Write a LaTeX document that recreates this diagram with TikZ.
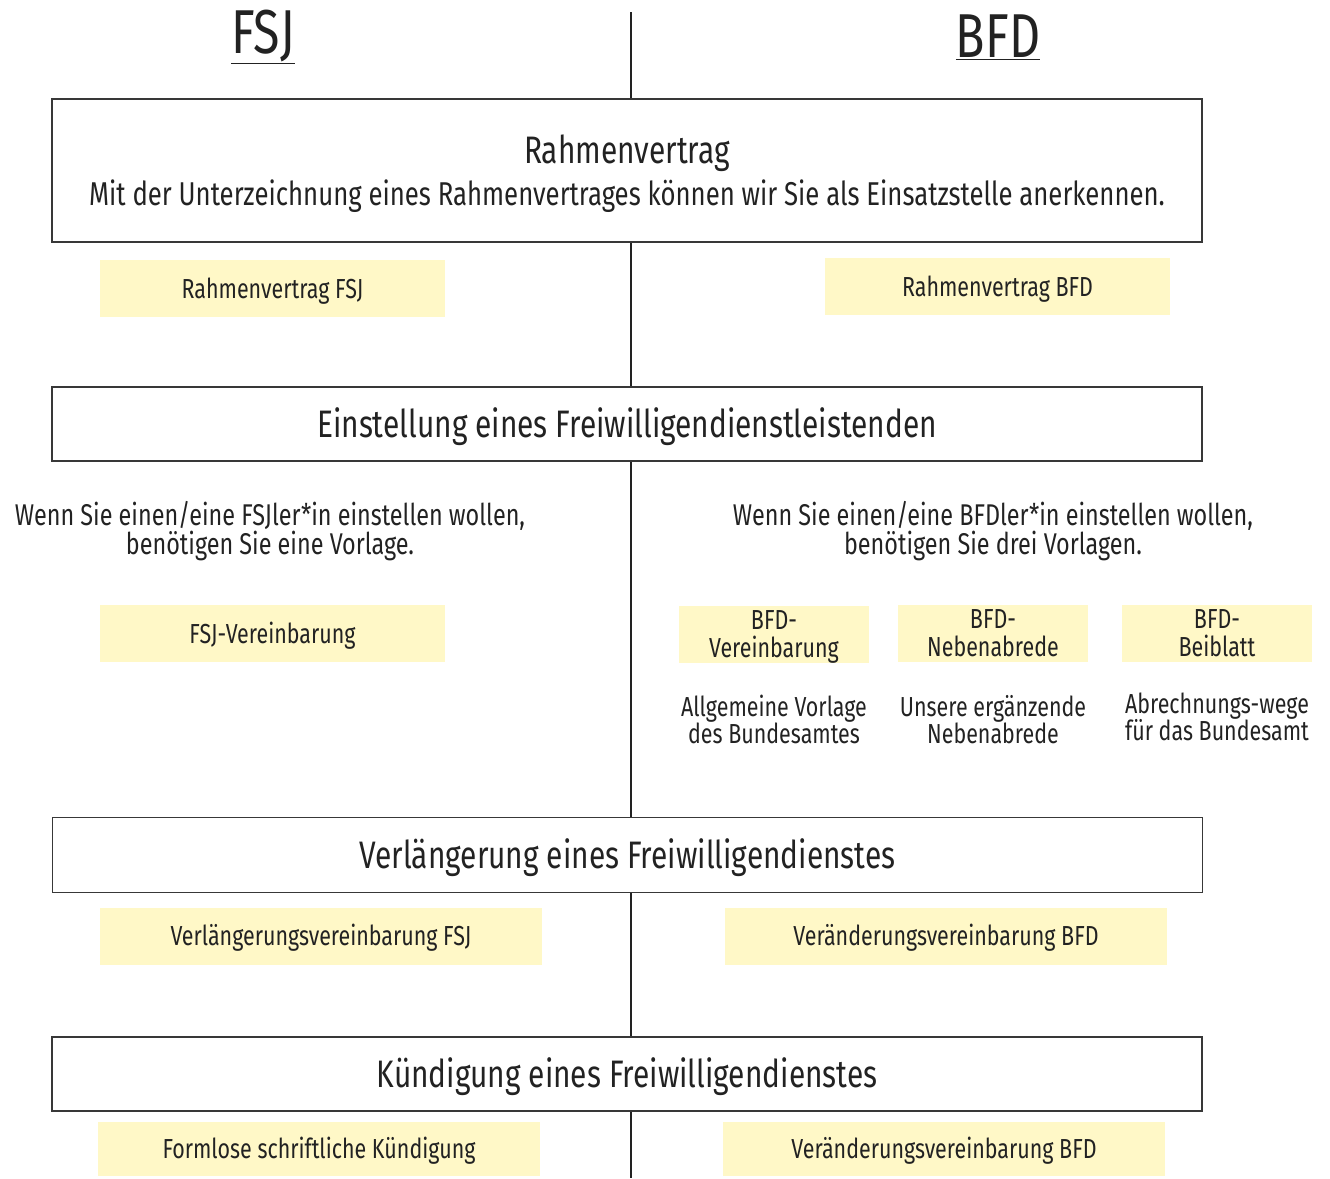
\documentclass[tikz,border=0pt]{standalone}
\usepackage{fontspec}
\setmainfont{Fira Sans}[FakeStretch=0.78]
\usepackage{tikz}
\usetikzlibrary{positioning}
\definecolor{docyellow}{RGB}{255,248,199}
\definecolor{ink}{RGB}{34,34,34}

\begin{document}
\begin{tikzpicture}[x=1pt, y=-1pt, every node/.style={text=ink, inner sep=0pt},
	head/.style={font=\fontsize{62}{62}\selectfont},
	oneline/.style={text height=#1, text depth=0pt},
	stage/.style={draw=ink!90, line width=1.2pt, fill=white, minimum width=1150pt, align=center},
	stagetitle/.style={font=\fontsize{38.3}{44}\selectfont, oneline=26.4pt},
	doc/.style={fill=docyellow, minimum height=57pt, align=center, text depth=0pt, font=\fontsize{27.5}{28}\selectfont},
	docline/.style={doc, oneline=19pt},
	note/.style={align=center, font=\fontsize{30}{29}\selectfont}]
	\useasboundingbox (0,0) rectangle (1330,1178);
	% column divider
	\coordinate (top) at (631,12);
	\coordinate (bottom) at (631,1178);
	\draw[ink, line width=1.3pt] (top) -- (bottom);
	\node[head] (fsj) at (263,37) {\underline{FSJ}};
	\node[head] (bfd) at (998,37) {\underline{BFD}};
	% Rahmenvertrag
	\node[stage, minimum height=143pt] (rahmen) at (627,170.5) {};
	\node[stagetitle] (rahmenT) at (627,150) {Rahmenvertrag};
	\node[note, oneline=22.7pt, font=\fontsize{33}{32}\selectfont] (rahmenS) at (627,194) {Mit der Unterzeichnung eines Rahmenvertrages können wir Sie als Einsatzstelle anerkennen.};
	\node[docline, minimum width=345pt] (rvfsj) at (272.5,288.5) {Rahmenvertrag FSJ};
	\node[docline, minimum width=345pt] (rvbfd) at (997.5,286.5) {Rahmenvertrag BFD};
	% Einstellung
	\node[stage, minimum height=74pt, stagetitle] (einst) at (627,424) {Einstellung eines Freiwilligendienstleistenden};
	\node[note] (wennfsj) at (270,531) {Wenn Sie einen/eine FSJler*in einstellen wollen,\\benötigen Sie eine Vorlage.};
	\node[note] (wennbfd) at (993,531) {Wenn Sie einen/eine BFDler*in einstellen wollen,\\benötigen Sie drei Vorlagen.};
	\node[docline, minimum width=345pt] (fsjver) at (272.5,633.5) {FSJ-Vereinbarung};
	\node[doc, minimum width=190pt] (bfdver) at (774,634.5) {BFD-\\Vereinbarung};
	\node[doc, minimum width=190pt] (bfdneb) at (993,633.5) {BFD-\\Nebenabrede};
	\node[doc, minimum width=190pt] (bfdbei) at (1217,633.5) {BFD-\\Beiblatt};
	\node[note, font=\fontsize{27.5}{27}\selectfont, below=32pt of bfdver] (verN) {Allgemeine Vorlage\\des Bundesamtes};
	\node[note, font=\fontsize{27.5}{27}\selectfont, below=33pt of bfdneb] (nebN) {Unsere ergänzende\\Nebenabrede};
	\node[note, font=\fontsize{27.5}{27}\selectfont, below=30pt of bfdbei] (beiN) {Abrechnungs-wege\\für das Bundesamt};
	% Verlaengerung
	\node[stage, minimum height=75pt, stagetitle] (verl) at (627.5,855) {Verlängerung eines Freiwilligendienstes};
	\node[docline, minimum width=442pt] (verlfsj) at (321,936) {Verlängerungsvereinbarung FSJ};
	\node[docline, minimum width=442pt] (verlbfd) at (946,936) {Veränderungsvereinbarung BFD};
	% Kuendigung
	\node[stage, minimum height=74pt, stagetitle] (kuend) at (627,1074) {Kündigung eines Freiwilligendienstes};
	\node[docline, minimum width=442pt, minimum height=54pt] (kuendfsj) at (319,1149) {Formlose schriftliche Kündigung};
	\node[docline, minimum width=442pt, minimum height=54pt] (kuendbfd) at (944,1149) {Veränderungsvereinbarung BFD};
\end{tikzpicture}
\end{document}
